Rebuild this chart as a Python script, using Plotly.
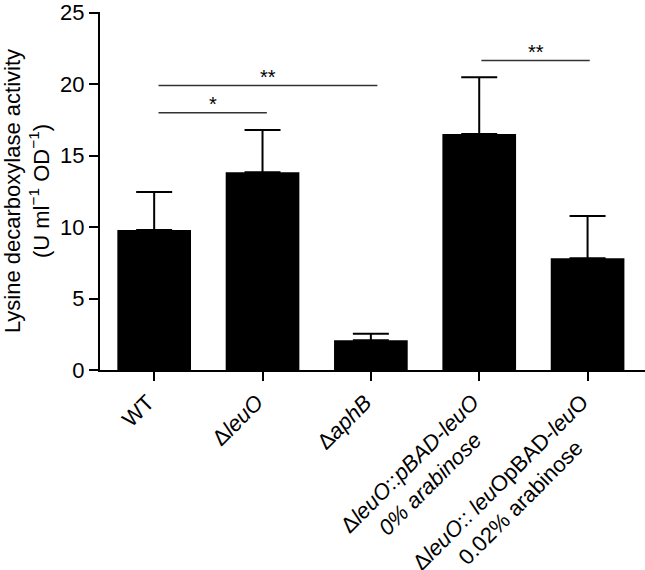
import plotly.graph_objects as go

# ---- data ----
categories = ["WT", "ΔleuO", "ΔaphB", "ΔleuO::pBAD-leuO 0% arabinose",
              "ΔleuO::leuOpBAD-leuO 0.02% arabinose"]
tick_labels = [
    "WT",
    "Δ<i>leuO</i>",
    "Δ<i>aphB</i>",
    "Δ<i>leuO</i>::<i>pBAD-leuO</i><br><i>0% arabinose</i>",
    "Δ<i>leuO</i>:: <i>leu</i>OpBAD-<i>leu</i>O<br>0.02% arabinose",
]
means = [9.8, 13.83, 2.09, 16.52, 7.82]
err_upper = [2.65, 2.97, 0.44, 3.97, 2.96]
# significance brackets: (x start, x end, height, label) in category units
sig_x0 = [0.04, 0.04, 3.02]
sig_x1 = [1.04, 2.06, 4.02]
sig_y = [18.0, 19.9, 21.65]
sig_text = ["*", "**", "**"]

FONT = "Liberation Sans, Arial, Helvetica, sans-serif"
FS = 22
xpos = list(range(len(categories)))

fig = go.Figure()
fig.add_trace(go.Bar(
    x=xpos, y=means, width=0.68,
    marker=dict(color="black", line=dict(width=0)),
    error_y=dict(type="data", symmetric=False, array=err_upper,
                 arrayminus=[0] * len(means), color="black",
                 thickness=2, width=18),
    showlegend=False,
))

for x0, x1, y, t in zip(sig_x0, sig_x1, sig_y, sig_text):
    fig.add_shape(type="line", x0=x0, x1=x1, y0=y, y1=y, xref="x", yref="y",
                  line=dict(color="#333333", width=1.5))
    fig.add_annotation(x=(x0 + x1) / 2, y=y, xref="x", yref="y", text=t,
                       showarrow=False, yanchor="bottom", yshift=-4,
                       font=dict(family=FONT, size=20, color="black"))

# x-axis line stub extending slightly left of the y-axis
fig.add_shape(type="line", xref="paper", yref="y", x0=-0.017, x1=0, y0=0, y1=0,
              line=dict(color="black", width=2))

# rotated category labels (end of first line placed near each tick)
lh = 1.3 * FS
pad = 2
for i, lab in enumerate(tick_labels):
    n = lab.count("<br>") + 1
    H = n * lh + 2 * pad
    xs = -5 + 0.707 * (H - lh / 2)
    ys = -(30 - 0.707 * (2 * pad + lh / 2))
    fig.add_annotation(x=xpos[i], y=0, xref="x", yref="y", text=lab,
                       showarrow=False, textangle=-45, align="center",
                       xanchor="right", yanchor="top",
                       xshift=xs, yshift=ys,
                       font=dict(family=FONT, size=FS, color="black"))

fig.update_layout(
    width=645, height=570,
    margin=dict(l=100, r=0, t=10, b=200),
    paper_bgcolor="white", plot_bgcolor="white",
    font=dict(family=FONT, size=FS, color="black"),
)
fig.update_xaxes(
    range=[-0.5, 4.53], tickvals=xpos, showticklabels=False,
    showline=True, linecolor="black", linewidth=2,
    ticks="outside", ticklen=9, tickwidth=2, tickcolor="black",
    showgrid=False, zeroline=False,
)
fig.update_yaxes(
    range=[0, 25.05], tickvals=[0, 5, 10, 15, 20, 25],
    ticklabeloverflow="allow",
    showline=True, linecolor="black", linewidth=2,
    ticks="outside", ticklen=9, tickwidth=2, tickcolor="black",
    showgrid=False, zeroline=False,
    tickfont=dict(family=FONT, size=FS, color="black"),
    title=dict(text="Lysine decarboxylase activity<br>(U ml<sup>−1</sup> OD<sup>−1</sup>)",
               font=dict(family=FONT, size=FS, color="black"), standoff=10),
)

fig.write_html("out.html", config={"displayModeBar": False},
               post_script="document.body.style.margin='0px';")
